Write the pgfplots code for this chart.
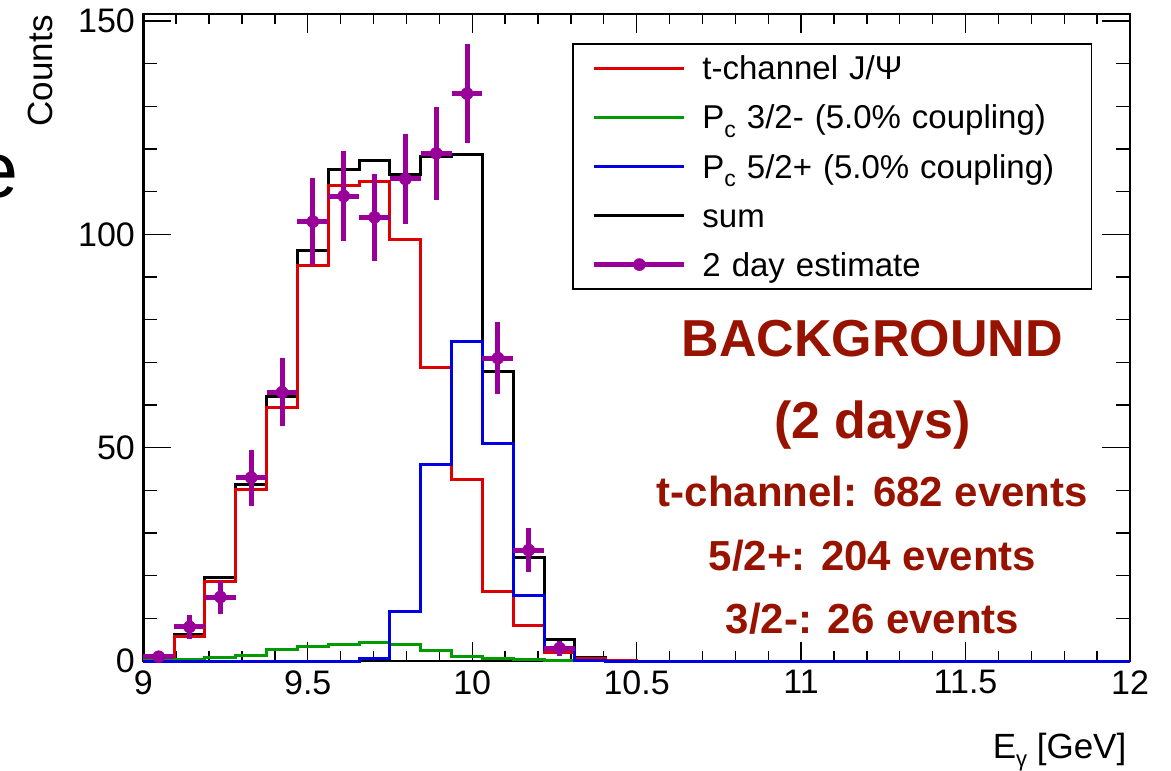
\documentclass[border=0pt]{standalone}
\usepackage{fontspec}
\setmainfont{Liberation Sans}
\usepackage{pgfplots}
\usepackage{pgfplotstable}
\pgfplotsset{compat=1.18}

\definecolor{hred}{RGB}{220,0,0}
\definecolor{hgreen}{RGB}{0,155,0}
\definecolor{hblue}{RGB}{0,0,225}
\definecolor{hpurp}{RGB}{153,0,153}
\definecolor{anno}{RGB}{152,18,0}

% histogram contents: x = left bin edge (32 bins of 0.09375 GeV)
\pgfplotstableread{
x        red   green blue  sum
9.00000  0.8   0.2   0.0   1.0
9.09375  5.7   0.3   0.0   6.2
9.18750  18.6  0.8   0.0   19.5
9.28125  40.1  1.3   0.0   41.4
9.37500  59.4  2.6   0.0   62.0
9.46875  92.8  3.4   0.0   96.2
9.56250  111.4 3.9   0.0   115.3
9.65625  112.5 4.4   0.5   117.4
9.75000  98.8  3.9   11.5  114.1
9.84375  68.9  2.5   46.1  118.2
9.93750  42.6  1.1   75.0  118.8
10.03125 16.3  0.7   50.9  67.9
10.12500 8.3   0.4   15.3  24.3
10.21875 2.1   0.2   2.8   5.1
10.31250 0.5   0.1   0.2   0.8
10.40625 0.1   0.0   0.0   0.1
10.50000 0.0   0.0   0.0   0.0
12.00000 0.0   0.0   0.0   0.0
}\hist

% 2 day estimate: bin centre, counts, half bin width, sqrt(counts)
\pgfplotstableread{
x         y    ex        ey
9.046875  1    0.046875  1.00
9.140625  8    0.046875  2.83
9.234375  15   0.046875  3.87
9.328125  43   0.046875  6.56
9.421875  63   0.046875  7.94
9.515625  103  0.046875  10.15
9.609375  109  0.046875  10.44
9.703125  104  0.046875  10.20
9.796875  113  0.046875  10.63
9.890625  119  0.046875  10.91
9.984375  133  0.046875  11.53
10.078125 71   0.046875  8.43
10.171875 26   0.046875  5.10
10.265625 3    0.046875  1.73
}\est

\begin{document}
\begin{tikzpicture}
% axis carrying the x ticks
\begin{axis}[name=axA,
  scale only axis, width=493.35pt, height=323.35pt,
  xmin=9, xmax=12, ymin=0, ymax=151.6,
  axis line style={line width=1.2pt},
  tick align=inside,
  ytick=\empty,
  xtick={9,9.5,10,10.5,11,11.5,12},
  xticklabels={9,9.5,10,10.5,11,11.5,12},
  minor x tick num=4,
  major tick length=9.5pt, minor tick length=5pt,
  tick style={line width=0.7pt, black},
  xticklabel style={font=\fontsize{17}{17}\selectfont, anchor=north, inner sep=0pt, yshift=-4.5pt},
]
\end{axis}
% main axis
\begin{axis}[name=ax,
  scale only axis, width=493.35pt, height=323.35pt,
  xmin=9, xmax=12, ymin=0, ymax=151.6,
  axis line style={line width=1.2pt},
  tick align=inside,
  xtick=\empty,
  ytick={0,50,100,150},
  yticklabels={0,50,100,150},
  minor y tick num=4,
  major tick length=14pt, minor tick length=7pt,
  tick style={line width=0.7pt, black},
  yticklabel style={font=\fontsize{17}{17}\selectfont, anchor=east, inner sep=0pt, xshift=-4pt},
  clip=false,
  legend cell align=left,
  legend style={at={(rel axis cs:0.4345,0.956)}, anchor=north west,
    draw=black, line width=0.9pt, fill=white,
    inner xsep=9.5pt, inner ysep=0pt, row sep=0pt,
    font=\fontsize{16.5}{19.8}\selectfont,
    nodes={inner sep=0pt, text height=18.1pt, text depth=6.45pt, text width=185pt}},
  legend image code/.code={\draw[#1] (0pt,0pt) -- (45pt,0pt); \path[draw=none] (0pt,0pt) -- (54pt,0pt);},
]
\addplot[black, line width=1.5pt, const plot, forget plot] table[x=x, y=sum] {\hist};
\addplot[hred, line width=1.5pt, const plot] table[x=x, y=red] {\hist};
\addlegendentry{t-channel J/Ψ}
\addplot[hgreen, line width=1.5pt, const plot] table[x=x, y=green] {\hist};
\addlegendentry{P\raisebox{-0.25em}{\fontsize{11.5}{11.5}\selectfont c} 3/2- (5.0\% coupling)}
\addplot[hblue, line width=1.5pt, const plot] table[x=x, y=blue] {\hist};
\addlegendentry{P\raisebox{-0.25em}{\fontsize{11.5}{11.5}\selectfont c} 5/2+ (5.0\% coupling)}
\addlegendimage{black, line width=1.5pt}
\addlegendentry{sum}
\addplot[hpurp, only marks, mark=*, mark size=3pt,
  mark options={fill=hpurp, draw=hpurp, line width=0.3pt},
  legend image code/.code={\draw[hpurp, line width=2.5pt, sharp plot, mark=*, mark size=3pt, mark repeat=2, mark phase=2, mark options={fill=hpurp, draw=hpurp, line width=0.3pt}] plot coordinates {(0pt,0pt) (22.5pt,0pt) (45pt,0pt)}; \path[draw=none] (0pt,0pt) -- (54pt,0pt);},
  error bars/.cd, x dir=both, x explicit, y dir=both, y explicit,
  error mark=none, error bar style={line width=2.5pt, hpurp}]
  table[x=x, y=y, x error=ex, y error=ey] {\est};
\addlegendentry{2 day estimate}

\node[anchor=base, inner sep=0pt, text=anno, font=\bfseries\fontsize{26}{26}\selectfont] at (axis cs:11.217,71.3) {BACKGROUND};
\node[anchor=base, inner sep=0pt, text=anno, font=\bfseries\fontsize{26}{26}\selectfont] at (axis cs:11.217,52.2) {(2 days)};
\node[anchor=base, inner sep=0pt, text=anno, font=\bfseries\fontsize{21}{21}\selectfont] at (axis cs:11.217,36.2) {t-channel: 682 events};
\node[anchor=base, inner sep=0pt, text=anno, font=\bfseries\fontsize{21}{21}\selectfont] at (axis cs:11.217,21.2) {5/2+: 204 events};
\node[anchor=base, inner sep=0pt, text=anno, font=\bfseries\fontsize{21}{21}\selectfont] at (axis cs:11.217,6.5) {3/2-: 26 events};
\end{axis}

\node[anchor=base east, inner sep=0pt, font=\fontsize{17.5}{17.5}\selectfont] at ([shift={(-1.65pt,-48.65pt)}]ax.south east) {E\raisebox{-0.22em}{\fontsize{11}{11}\selectfont γ} [GeV]};
\node[rotate=90, anchor=base east, inner sep=0pt, font=\fontsize{17.5}{17.5}\selectfont] at ([shift={(-45.65pt,-0.35pt)}]ax.north west) {Counts};
\node[anchor=base east, inner sep=0pt, font=\fontsize{39.5}{39.5}\selectfont] at ([shift={(-62.05pt,-91.85pt)}]ax.north west) {e};

\pgfresetboundingbox
\path[use as bounding box] ([shift={(-71.65pt,-54.5pt)}]ax.south west) rectangle ([shift={(20.5pt,7.15pt)}]ax.north east);
\end{tikzpicture}
\end{document}
